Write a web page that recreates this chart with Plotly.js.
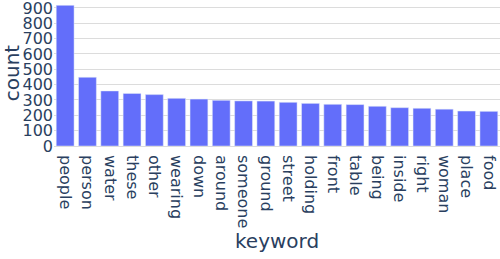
<!DOCTYPE html>
<html>
<head>
<meta charset="utf-8">
<script src="https://cdn.plot.ly/plotly-3.0.1.min.js"></script>
<style>html,body{margin:0;padding:0;background:#fff;}#chart{width:500px;height:259px;}</style>
</head>
<body>
<div id="chart"></div>
<script>
const keywords = ["people","person","water","these","other","wearing","down","around","someone","ground","street","holding","front","table","being","inside","right","woman","place","food"];
const counts = [917,448,359,343,335,311,306,298,294,293,285,278,272,270,259,250,246,240,228,226];
const yTickVals = [0,100,200,300,400,500,600,700,800,900];
const xTitle = "keyword";
const yTitle = "count";

const font = {family: "DejaVu Sans, Verdana, sans-serif", color: "#2a3f5f"};

Plotly.newPlot("chart", [{
  type: "bar",
  x: keywords,
  y: counts,
  marker: {color: "#636efa", line: {color: "#E5ECF6", width: 0.5}}
}], {
  width: 500,
  height: 259,
  margin: {l: 54, r: 0, t: 0, b: 113},
  paper_bgcolor: "#fff",
  plot_bgcolor: "#fff",
  font: Object.assign({size: 16}, font),
  showlegend: false,
  bargap: 0.2,
  xaxis: {
    automargin: false,
    tickangle: 90,
    ticklabelstandoff: 8,
    tickfont: Object.assign({size: 16}, font),
    showgrid: false,
    showline: false,
    ticks: ""
  },
  yaxis: {
    title: {text: yTitle, font: Object.assign({size: 20}, font)},
    automargin: false,
    range: [0, 952],
    tickvals: yTickVals,
    tickfont: Object.assign({size: 16}, font),
    ticklabeloverflow: "allow",
    gridcolor: "#dcdcdc",
    zeroline: true,
    zerolinecolor: "#dcdcdc",
    showline: false,
    ticks: ""
  },
  annotations: [{
    text: xTitle,
    xref: "paper", yref: "paper",
    x: 0.5, y: -0.651,
    xanchor: "center", yanchor: "middle",
    showarrow: false,
    font: Object.assign({size: 20}, font)
  }]
}, {displayModeBar: false, staticPlot: true});
</script>
</body>
</html>
